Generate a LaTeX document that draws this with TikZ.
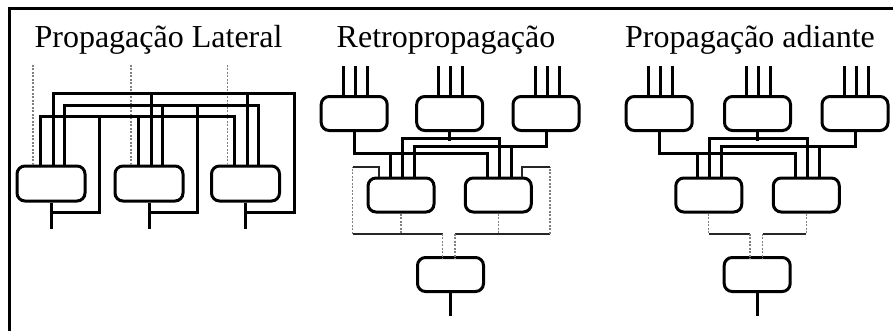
\documentclass[tikz,border=0pt]{standalone}
\usepackage{fontspec}
\setmainfont{Liberation Serif}
\usetikzlibrary{calc}

\tikzset{
  unit/.style={draw,line width=3pt,rounded corners=8pt,minimum width=66pt,minimum height=34pt,inner sep=0pt},
  wire/.style={line width=3pt},
  feed/.style={line width=2pt,black!85},
  dotin/.style={line width=1.3pt,black!50,dash pattern=on 2pt off 1.5pt},
  title/.style={anchor=base,font=\fontsize{32}{36}\selectfont}
}

\begin{document}
\begin{tikzpicture}[x=1pt,y=-1pt]
  \useasboundingbox (0,0) rectangle (893,330);
  \clip (0,0) rectangle (893,330);
  \draw[line width=2.2pt] (9.5,8.5) rectangle (905,345);

  % lateral propagation
  \node[title] at (158.5,47.5) {Propagação Lateral};
  \node[unit,minimum width=68pt,minimum height=35pt] (L1) at (51,183.5)    {};
  \node[unit,minimum width=68pt,minimum height=35pt] (L2) at (149,183.5)   {};
  \node[unit,minimum width=68pt,minimum height=35pt] (L3) at (245.5,183.5) {};

  \foreach \b in {L1,L2,L3} {
    \draw[dotin] ($(\b.north)+(-18,0)$) -- ++(0,-101);
    \draw[wire] (\b.south) -- ++(0,26);
  }
  % every output goes back to all three units
  \foreach \src/\off/\h in {L1/-11/48.5, L2/13/59.5, L3/2/71} {
    \draw[wire] ($(L1.north)+(\off,0)$) -- ++(0,-\h) -| ($(L2.north)+(\off,0)$);
    \draw[wire] ($(L2.north)+(\off,-\h)$) -| ($(L3.north)+(\off,0)$);
    \draw[wire] (\src.south) ++(0,10) -- ++(48.5,0) |- ($(L3.north)+(\off,-\h)$);
  }

  % back propagation
  \node[title] at (446,47) {Retropropagação};
  \node[unit] (R1) at (354.2,113.5) {};
  \node[unit] (R2) at (449.7,113.5) {};
  \node[unit] (R3) at (546,113.5)   {};
  \node[unit] (R4) at (401,195)     {};
  \node[unit] (R5) at (498.3,195)   {};
  \node[unit] (R6) at (450.5,274.5) {};

  \foreach \b in {R1,R2,R3}
    \foreach \dx in {-11,1,13}
      \draw[wire] ($(\b.north)+(\dx,0)$) -- ++(0,-29);
  \draw[wire] (R6.south) -- ++(0,23);

  \draw[wire] (R1.south) |- ($(R5.north)+(-11,-23)$) -- ($(R5.north)+(-11,0)$);
  \draw[wire] ($(R4.north)+(-11,0)$) -- ++(0,-23);
  \draw[wire] ($(R4.north)+(1,0)$) -- ++(0,-38.5) -| ($(R5.north)+(1,0)$);
  \draw[wire] (R2.south) -- ++(0,9);
  \draw[wire] (R3.south) |- ($(R4.north)+(13,-30.5)$) -- ($(R4.north)+(13,0)$);
  \draw[wire] ($(R5.north)+(13,0)$) -- ++(0,-30.5);

  % hidden outputs: down to R6 and back up into themselves
  \foreach \m/\up/\dn/\tp in {R4/-48.3/41.7/-21.7, R5/51.7/-43.3/23.4} {
    \draw[dotin] (\m.south) -- ++(0,20);
    \draw[feed]  ($(\m.south)+(\up,20)$) -- ($(\m.south)+(\dn,20)$);
    \draw[dotin] ($(\m.south)+(\up,20)$) -- ($(\m.north)+(\up,-10)$);
    \draw[feed]  ($(\m.north)+(\up,-10)$) -| ($(\m.north)+(\tp,0)$);
    \draw[dotin] ($(\m.south)+(\dn,20)$) -- ++(0,25.5);
  }

  % forward propagation
  \node[title] at (750,47) {Propagação adiante};
  \node[unit] (F1) at (659.2,113.5) {};
  \node[unit] (F2) at (757.5,113.5) {};
  \node[unit] (F3) at (855,113.5)   {};
  \node[unit] (F4) at (708.8,195)   {};
  \node[unit] (F5) at (806.3,195)   {};
  \node[unit] (F6) at (757.2,274.5) {};

  \foreach \b in {F1,F2,F3}
    \foreach \dx in {-11,1,13}
      \draw[wire] ($(\b.north)+(\dx,0)$) -- ++(0,-29);
  \draw[wire] (F6.south) -- ++(0,23);

  \draw[wire] (F1.south) |- ($(F5.north)+(-11,-23)$) -- ($(F5.north)+(-11,0)$);
  \draw[wire] ($(F4.north)+(-11,0)$) -- ++(0,-23);
  \draw[wire] ($(F4.north)+(1,0)$) -- ++(0,-38.5) -| ($(F5.north)+(1,0)$);
  \draw[wire] (F2.south) -- ++(0,9);
  \draw[wire] (F3.south) |- ($(F4.north)+(13,-30.5)$) -- ($(F4.north)+(13,0)$);
  \draw[wire] ($(F5.north)+(13,0)$) -- ++(0,-30.5);

  \foreach \m/\dn in {F4/41.2, F5/-43.6} {
    \draw[dotin] (\m.south) -- ++(0,20);
    \draw[feed]  ($(\m.south)+(0,20)$) -- ++(\dn,0);
    \draw[dotin] ($(\m.south)+(\dn,20)$) -- ++(0,25.5);
  }
\end{tikzpicture}
\end{document}
